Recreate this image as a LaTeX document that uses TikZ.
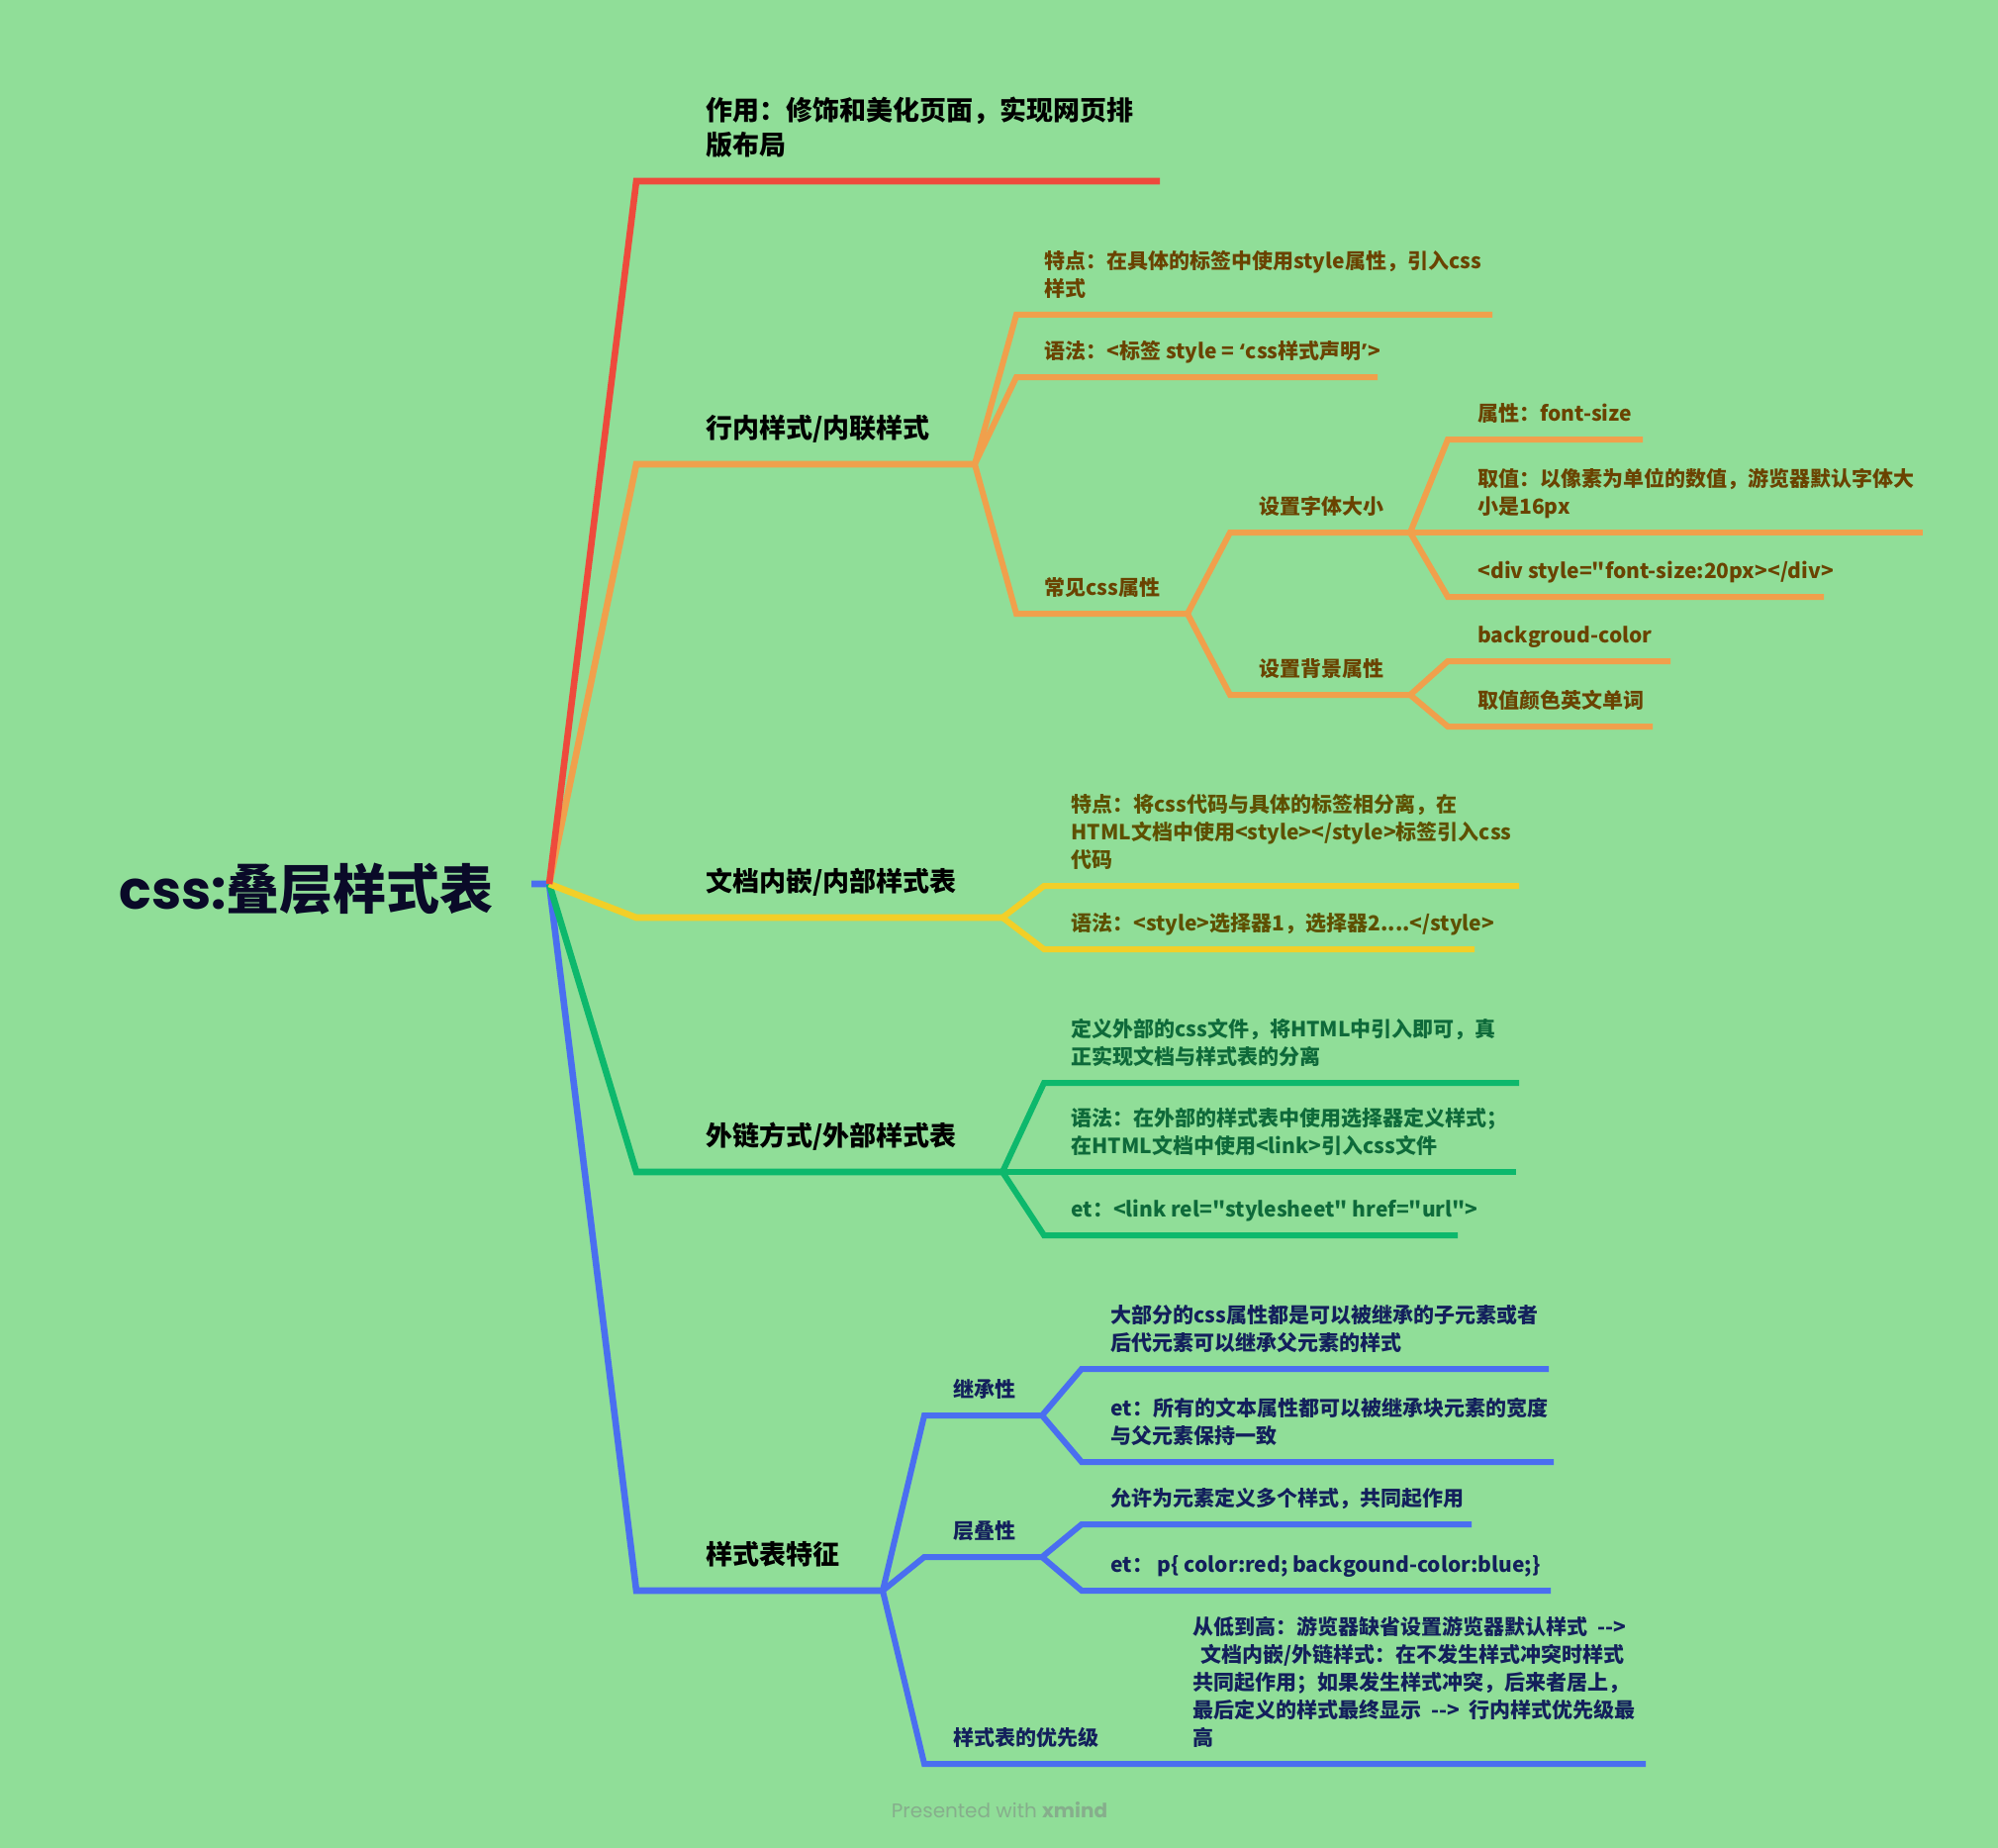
\documentclass[tikz,border=0pt]{standalone}
\usepackage{fontspec}
\setmainfont{Noto Sans CJK SC}
\newfontfamily\rootlatin{Poppins}
\usetikzlibrary{positioning}

\definecolor{bgmind}{HTML}{90DE98}
\definecolor{redbr}{HTML}{EE4A3C}
\definecolor{orangebr}{HTML}{F0A04C}
\definecolor{yellowbr}{HTML}{F2CF28}
\definecolor{greenbr}{HTML}{0DB86C}
\definecolor{bluebr}{HTML}{4A6EF0}
\definecolor{browntxt}{HTML}{6A4300}
\definecolor{olivetxt}{HTML}{5E5000}
\definecolor{greentxt}{HTML}{0E6A3A}
\definecolor{bluetxt}{HTML}{13205C}
\definecolor{roottxt}{HTML}{0A0A28}
\definecolor{credit}{HTML}{86AE8C}
\newcommand{\qd}{\textquotedbl}

\begin{document}
\begin{tikzpicture}[x=0.5pt, y=-0.5pt,
    branch/.style={line width=3.3pt},
    twig/.style={line width=3pt},
    maintopic/.style={anchor=south west, inner sep=0pt, align=left, text depth=2.7pt,
      font=\bfseries\fontsize{13.5}{17.5}\selectfont},
    subtopic/.style={anchor=south west, inner sep=0pt, align=left, text depth=2.1pt,
      font=\bfseries\fontsize{10.5}{14}\selectfont}]
    \fill[bgmind] (0,0) rectangle (2019,1867);
    \useasboundingbox (0,0) rectangle (2019,1867);
    %
    \node[anchor=base west, inner sep=0pt, text=roottxt, font=\bfseries\fontsize{27}{30}\selectfont] (root) at (120,918) {{\rootlatin css:}叠层样式表};
    \coordinate (hubstub) at (537,893);
    \coordinate (hub) at (555,893);
    %
    % main branches
    \coordinate (effect-c) at (643,183);   \coordinate (effect-e) at (1172,183);
    \coordinate (inline-c) at (643,469);   \coordinate (inline-e) at (985,469);
    \coordinate (embed-c) at (643,927);    \coordinate (embed-e) at (1013,927);
    \coordinate (extern-c) at (643,1184);  \coordinate (extern-e) at (1013,1184);
    \coordinate (traits-c) at (643,1607);  \coordinate (traits-e) at (892,1607);
    \draw[branch, bluebr] (hubstub) -- (hub) -- (traits-c) -- (traits-e);
    \draw[branch, greenbr] (hub) -- (extern-c) -- (extern-e);
    \draw[branch, yellowbr] (hub) -- (embed-c) -- (embed-e);
    \draw[branch, orangebr] (hub) -- (inline-c) -- (inline-e);
    \draw[branch, redbr] (hub) -- (effect-c) -- (effect-e);
    \node[maintopic] (effect) at (713,162) {作用：修饰和美化页面，实现网页排\\版布局};
    \node[maintopic] (inline) at (713,448) {行内样式/内联样式};
    \node[maintopic] (embed) at (713,906) {文档内嵌/内部样式表};
    \node[maintopic] (extern) at (713,1163) {外链方式/外部样式表};
    \node[maintopic] (traits) at (713,1586) {样式表特征};
    %
    % inline style
    \coordinate (in-feat-c) at (1027,318);   \coordinate (in-feat-e) at (1508,318);
    \coordinate (in-syn-c) at (1027,381);    \coordinate (in-syn-e) at (1392,381);
    \coordinate (in-props-c) at (1027,620);  \coordinate (in-props-e) at (1200,620);
    \draw[twig, orangebr] (inline-e) -- (in-feat-c) -- (in-feat-e);
    \draw[twig, orangebr] (inline-e) -- (in-syn-c) -- (in-syn-e);
    \draw[twig, orangebr] (inline-e) -- (in-props-c) -- (in-props-e);
    \begin{scope}[every node/.append style={subtopic, text=browntxt}]
    \node (in-feat) at (1055,304) {特点：在具体的标签中使用style属性，引入css\\样式};
    \node (in-syn) at (1055,367) {语法：<标签 style = {\rootlatin‘}css样式声明{\rootlatin’}>};
    \node (in-props) at (1055,606) {常见css属性};
    %
    \coordinate (fsize-c) at (1243,538);  \coordinate (fsize-e) at (1425,538);
    \coordinate (bgprop-c) at (1243,702); \coordinate (bgprop-e) at (1425,702);
    \draw[twig, orangebr] (in-props-e) -- (fsize-c) -- (fsize-e);
    \draw[twig, orangebr] (in-props-e) -- (bgprop-c) -- (bgprop-e);
    \node (fsize) at (1272,524) {设置字体大小};
    \node (bgprop) at (1272,688) {设置背景属性};
    %
    \coordinate (fs-prop-c) at (1463,444);  \coordinate (fs-prop-e) at (1660,444);
    \coordinate (fs-val-c) at (1463,538);   \coordinate (fs-val-e) at (1943,538);
    \coordinate (fs-eg-c) at (1463,603);    \coordinate (fs-eg-e) at (1843,603);
    \coordinate (bg-name-c) at (1463,668);  \coordinate (bg-name-e) at (1688,668);
    \coordinate (bg-val-c) at (1463,734);   \coordinate (bg-val-e) at (1670,734);
    \draw[twig, orangebr] (fsize-e) -- (fs-prop-c) -- (fs-prop-e);
    \draw[twig, orangebr] (fsize-e) -- (fs-val-c) -- (fs-val-e);
    \draw[twig, orangebr] (fsize-e) -- (fs-eg-c) -- (fs-eg-e);
    \draw[twig, orangebr] (bgprop-e) -- (bg-name-c) -- (bg-name-e);
    \draw[twig, orangebr] (bgprop-e) -- (bg-val-c) -- (bg-val-e);
    \node (fs-prop) at (1493,430) {属性：font-size};
    \node (fs-val) at (1493,524) {取值：以像素为单位的数值，游览器默认字体大\\小是16px};
    \node (fs-eg) at (1493,589) {<div style=\qd font-size:20px></div>};
    \node (bg-name) at (1493,654) {backgroud-color};
    \node (bg-val) at (1493,720) {取值颜色英文单词};
    \end{scope}
    %
    % embedded style
    \coordinate (em-feat-c) at (1055,895);  \coordinate (em-feat-e) at (1535,895);
    \coordinate (em-syn-c) at (1055,959);   \coordinate (em-syn-e) at (1490,959);
    \draw[twig, yellowbr] (embed-e) -- (em-feat-c) -- (em-feat-e);
    \draw[twig, yellowbr] (embed-e) -- (em-syn-c) -- (em-syn-e);
    \node[subtopic, text=olivetxt] (em-feat) at (1082,881) {特点：将css代码与具体的标签相分离，在\\HTML文档中使用<style></style>标签引入css\\代码};
    \node[subtopic, text=olivetxt] (em-syn) at (1082,945) {语法：<style>选择器1，选择器2....</style>};
    %
    % external style
    \coordinate (ex-def-c) at (1055,1094);  \coordinate (ex-def-e) at (1535,1094);
    \coordinate (ex-syn-c) at (1055,1184);  \coordinate (ex-syn-e) at (1532,1184);
    \coordinate (ex-eg-c) at (1055,1248);   \coordinate (ex-eg-e) at (1473,1248);
    \draw[twig, greenbr] (extern-e) -- (ex-def-c) -- (ex-def-e);
    \draw[twig, greenbr] (extern-e) -- (ex-syn-c) -- (ex-syn-e);
    \draw[twig, greenbr] (extern-e) -- (ex-eg-c) -- (ex-eg-e);
    \node[subtopic, text=greentxt] (ex-def) at (1082,1080) {定义外部的css文件，将HTML中引入即可，真\\正实现文档与样式表的分离};
    \node[subtopic, text=greentxt] (ex-syn) at (1082,1170) {语法：在外部的样式表中使用选择器定义样式；\\在HTML文档中使用<link>引入css文件};
    \node[subtopic, text=greentxt] (ex-eg) at (1082,1234) {et：<link rel=\qd stylesheet\qd{} href=\qd url\qd>};
    %
    % stylesheet traits
    \coordinate (inherit-c) at (934,1430);   \coordinate (inherit-e) at (1053,1430);
    \coordinate (cascade-c) at (934,1573);   \coordinate (cascade-e) at (1053,1573);
    \coordinate (priority-c) at (934,1782);  \coordinate (priority-e) at (1105,1782);
    \draw[twig, bluebr] (traits-e) -- (inherit-c) -- (inherit-e);
    \draw[twig, bluebr] (traits-e) -- (cascade-c) -- (cascade-e);
    \coordinate (inh-a-c) at (1093,1383);  \coordinate (inh-a-e) at (1565,1383);
    \coordinate (inh-b-c) at (1093,1477);  \coordinate (inh-b-e) at (1570,1477);
    \coordinate (cas-a-c) at (1093,1540);  \coordinate (cas-a-e) at (1487,1540);
    \coordinate (cas-b-c) at (1093,1607);  \coordinate (cas-b-e) at (1567,1607);
    \coordinate (prio-e) at (1663,1782);
    \draw[twig, bluebr] (inherit-e) -- (inh-a-c) -- (inh-a-e);
    \draw[twig, bluebr] (inherit-e) -- (inh-b-c) -- (inh-b-e);
    \draw[twig, bluebr] (cascade-e) -- (cas-a-c) -- (cas-a-e);
    \draw[twig, bluebr] (cascade-e) -- (cas-b-c) -- (cas-b-e);
    \draw[twig, bluebr] (traits-e) -- (priority-c) -- (priority-e) -- (prio-e);
    \begin{scope}[every node/.append style={subtopic, text=bluetxt}]
    \node (inherit) at (963,1416) {继承性};
    \node (cascade) at (963,1559) {层叠性};
    \node (priority) at (963,1768) {样式表的优先级};
    \node (inh-a) at (1122,1369) {大部分的css属性都是可以被继承的子元素或者\\后代元素可以继承父元素的样式};
    \node (inh-b) at (1122,1463) {et：所有的文本属性都可以被继承块元素的宽度\\与父元素保持一致};
    \node (cas-a) at (1122,1526) {允许为元素定义多个样式，共同起作用};
    \node (cas-b) at (1122,1593) {et：\ p\{ color:red; backgound-color:blue;\}};
    \node (prio) at (1205,1768) {从低到高：游览器缺省设置游览器默认样式 \ -{}->\\\hspace{0.4em}文档内嵌/外链样式：在不发生样式冲突时样式\\共同起作用；如果发生样式冲突，后来者居上，\\最后定义的样式最终显示 \ -{}-> \ 行内样式优先级最\\高};
    \end{scope}
    %
    \node[text=credit, font=\rootlatin\fontsize{10}{12}\selectfont] (credit) at (1010,1829) {Presented with \textbf{xmind}};
\end{tikzpicture}
\end{document}
